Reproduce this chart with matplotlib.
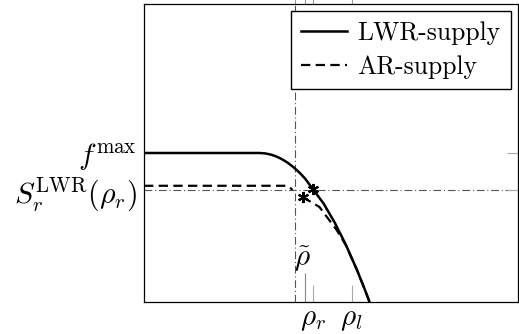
import numpy as np
import matplotlib
matplotlib.use('Agg')
import matplotlib.pyplot as plt

plt.rcParams['font.family'] = ['cmr10', 'DejaVu Serif']
plt.rcParams['mathtext.fontset'] = 'cm'
plt.rcParams['axes.unicode_minus'] = False

# values (axes scaled 0..1 both ways)
f_max = 0.5
s_level = 0.376          # S_r^LWR(rho_r)
rho_tilde = 0.403
rho_tick = 0.431
rho_r = 0.452
rho_l = 0.555

lwr_rho = [0.0, 0.309, 0.325, 0.34, 0.355, 0.37, 0.385, 0.40, 0.415, 0.43,
           0.452, 0.48, 0.51, 0.54, 0.57, 0.59, 0.603]
lwr_f = [0.5, 0.5, 0.4985, 0.4944, 0.4878, 0.4785, 0.4666, 0.452, 0.435,
         0.4153, 0.378, 0.3309, 0.2663, 0.1913, 0.1059, 0.0432, 0.0]

ar1_rho = [0.0, 0.381, 0.389, 0.397]
ar1_f = [0.39, 0.39, 0.386, 0.376]
ar2_rho = [0.424, 0.469, 0.491, 0.515, 0.54, 0.57, 0.59, 0.603]
ar2_f = [0.352, 0.319, 0.282, 0.242, 0.19, 0.1059, 0.0432, 0.0]

stars_rho = [0.424, 0.452]
stars_f = [0.352, 0.378]

fig = plt.figure(figsize=(5.19, 3.34), dpi=100)
ax = fig.add_axes([144/519, 32/334, 374/519, 298/334])

dashdot = (0, (7, 2.5, 1, 2.5))
ax.axvline(rho_tilde, color='#555555', lw=0.8, ls=dashdot, zorder=1)
ax.axhline(s_level, color='#555555', lw=0.8, ls=dashdot, zorder=1)

dash = (0, (4.2, 2.4))
ax.plot(lwr_rho, lwr_f, 'k-', lw=1.8, label='LWR-supply', zorder=3)
ax.plot(ar1_rho, ar1_f, color='k', ls=dash, lw=1.6, label='AR-supply', zorder=3)
ax.plot(ar2_rho, ar2_f, color='k', ls=dash, lw=1.6, zorder=3)
ax.plot(stars_rho, stars_f, ls='none', marker=(6, 2, 0), ms=8, mew=1.5,
        color='k', zorder=4)

ax.set_xlim(0, 1)
ax.set_ylim(0, 1)

ax.set_xticks([rho_r, rho_l])
ax.set_xticklabels([r'$\rho_r$', r'$\rho_l$'], fontsize=21)
ax.set_xticks([rho_tick], minor=True)
ax.tick_params(axis='x', which='major', direction='in', length=12,
               color='#aaaaaa', width=0.8, pad=3)
ax.tick_params(axis='x', which='minor', direction='in', length=21,
               color='#888888', width=0.8)

top = ax.secondary_xaxis('top')
top.set_xticks([rho_tilde, rho_tick, rho_r, rho_l])
top.set_xticklabels([])
top.tick_params(direction='out', length=5, color='#999999', width=0.8)
top.spines['top'].set_visible(False)

ax.set_yticks([f_max, s_level])
ax.set_yticklabels([r'$f^{\max}$', r'$S_r^{\mathrm{LWR}}(\rho_r)$'], fontsize=21.5)
ax.tick_params(axis='y', direction='in', length=8, color='#aaaaaa',
               width=0.8, pad=5, right=True, left=False)

ax.text(rho_tick - 0.007, 0.145, r'$\tilde{\rho}$', fontsize=21,
        ha='center', va='center')

for sp in ax.spines.values():
    sp.set_linewidth(0.9)

ax.legend(loc='upper right', fontsize=18.5, handlelength=1.8, fancybox=False,
          edgecolor='k', framealpha=1, borderaxespad=0.28, labelspacing=0.38,
          handletextpad=0.4, borderpad=0.4)

fig.savefig('out.png', dpi=100)
